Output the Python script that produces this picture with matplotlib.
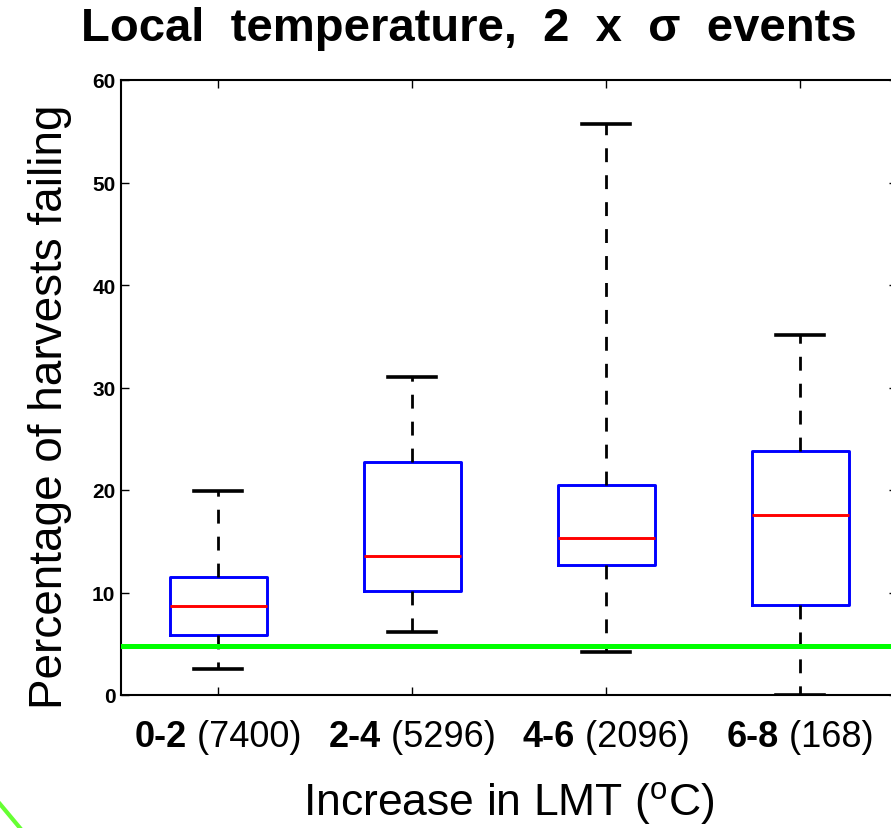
import matplotlib
matplotlib.use("Agg")
import matplotlib.pyplot as plt
from matplotlib.lines import Line2D

plt.rcParams['font.family'] = ['Liberation Sans', 'DejaVu Sans']

groups = ["0-2", "2-4", "4-6", "6-8"]
counts = ["(7400)", "(5296)", "(2096)", "(168)"]
whislo = [2.5, 6.1, 4.2, 0.0]
q1 = [5.85, 10.1, 12.7, 8.8]
med = [8.7, 13.6, 15.3, 17.6]
q3 = [11.5, 22.7, 20.5, 23.8]
whishi = [19.9, 31.0, 55.7, 35.1]
threshold = 4.8

stats = []
for i in range(len(groups)):
    stats.append(dict(whislo=whislo[i], q1=q1[i], med=med[i], q3=q3[i],
                      whishi=whishi[i], fliers=[]))

W, H = 891, 829
fig = plt.figure(figsize=(W / 100, H / 100), dpi=100)
ax = fig.add_axes([121/W, (H-696)/H, (897-121)/W, (696-81)/H])

ax.bxp(stats, positions=[1, 2, 3, 4], widths=0.5, showfliers=False,
       boxprops=dict(color='#0000ff', linewidth=2.1),
       medianprops=dict(color='#ff0000', linewidth=2.1),
       whiskerprops=dict(color='black', linewidth=2, linestyle=(0, (5, 4.7))),
       capprops=dict(color='black', linewidth=2.6),
       capwidths=0.25)

ax.axhline(threshold, color='#00ff00', linewidth=3.6, zorder=5)

ax.set_xlim(0.5, 4.5)
ax.set_ylim(0, 60)
ax.set_yticks([0, 10, 20, 30, 40, 50, 60])
ax.set_xticks([1, 2, 3, 4])
ax.set_xticklabels([])
ax.tick_params(direction='in', top=True, right=True, length=5.5, width=1)
ax.tick_params(axis='y', labelsize=15, pad=4)
for lab in ax.get_yticklabels():
    lab.set_fontweight('bold')
for s in ax.spines.values():
    s.set_linewidth(1.5)

# two-part tick labels: bold range + regular count
fig.canvas.draw()
r = fig.canvas.get_renderer()
ylab = 1 - 747 / H
for i in range(len(groups)):
    t1 = fig.text(0, ylab, groups[i], ha='left', va='baseline',
                  fontsize=26, fontweight='bold')
    t2 = fig.text(0, ylab, " " + counts[i], ha='left', va='baseline',
                  fontsize=26)
    w1 = t1.get_window_extent(r).width
    w2 = t2.get_window_extent(r).width
    x0 = ax.transData.transform((i + 1, 0))[0]
    start = x0 - (w1 + w2) / 2
    t1.set_x(start / W)
    t2.set_x((start + w1) / W)

fig.text(509 / W, 1 - 816 / H, "Increase in LMT ($^{\\mathregular{o}}$C)",
         ha='center', va='baseline', fontsize=32)
fig.text(62 / W, 1 - 407 / H, "Percentage of harvests failing",
         ha='center', va='baseline', rotation=90, rotation_mode='anchor',
         fontsize=33)
fig.text(469 / W, 1 - 41 / H, "Local  temperature,  2  x  σ  events",
         ha='center', va='baseline', fontsize=34, fontweight='bold')

fig.add_artist(Line2D([0, 20 / W], [1 - 805 / H, 0], color='#66ff33',
                      linewidth=3, transform=fig.transFigure))

fig.savefig("out.png", dpi=100)
